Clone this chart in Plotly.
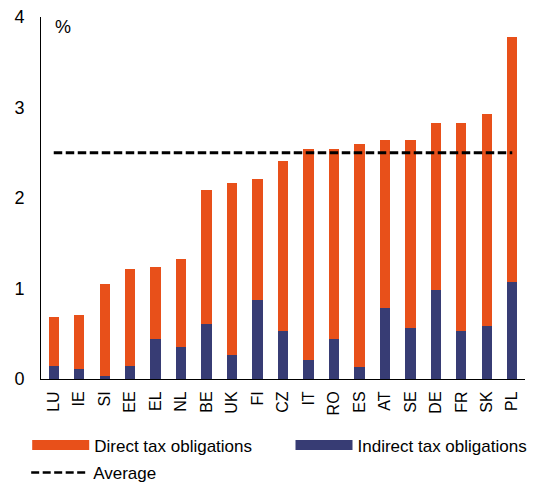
import plotly.graph_objects as go

countries = ["LU", "IE", "SI", "EE", "EL", "NL", "BE", "UK", "FI", "CZ",
             "IT", "RO", "ES", "AT", "SE", "DE", "FR", "SK", "PL"]
indirect = [0.14, 0.11, 0.03, 0.14, 0.44, 0.35, 0.61, 0.26, 0.87, 0.53,
            0.21, 0.44, 0.13, 0.79, 0.56, 0.98, 0.53, 0.59, 1.07]
direct = [0.54, 0.60, 1.02, 1.08, 0.80, 0.98, 1.48, 1.91, 1.34, 1.88,
          2.33, 2.10, 2.47, 1.85, 2.08, 1.85, 2.30, 2.34, 2.71]
average = 2.50
y_ticks = [0, 1, 2, 3, 4]

ORANGE = "#E8501A"
NAVY = "#373C74"
FONT = "Liberation Sans, Arial, sans-serif"

fig = go.Figure()
fig.add_trace(go.Bar(x=countries, y=indirect, marker=dict(color=NAVY, line=dict(width=0)),
                     showlegend=False, name="Indirect tax obligations"))
fig.add_trace(go.Bar(x=countries, y=direct, marker=dict(color=ORANGE, line=dict(width=0)),
                     showlegend=False, name="Direct tax obligations"))
fig.add_trace(go.Scatter(x=countries, y=[average] * len(countries), mode="lines",
                         line=dict(color="black", width=3, dash="8.5px,3.5px"),
                         showlegend=False, name="Average"))
# legend entries
fig.add_trace(go.Scatter(x=[None], y=[None], mode="lines", name="Direct tax obligations",
                         line=dict(color=ORANGE, width=10), legend="legend"))
fig.add_trace(go.Scatter(x=[None], y=[None], mode="lines", name="Indirect tax obligations",
                         line=dict(color=NAVY, width=10), legend="legend2"))
fig.add_trace(go.Scatter(x=[None], y=[None], mode="lines", name="Average",
                         line=dict(color="black", width=2.5, dash="8px,3.5px"), legend="legend3"))

leg_common = dict(orientation="h", xanchor="left", yanchor="top",
                  font=dict(size=17, family=FONT), itemwidth=57, bgcolor="rgba(0,0,0,0)")

fig.update_layout(
    width=537, height=476,
    margin=dict(l=33, r=20, t=9, b=105, autoexpand=False),
    barmode="stack", bargap=0.595,
    plot_bgcolor="white", paper_bgcolor="white",
    font=dict(family=FONT, size=16, color="black"),
    xaxis=dict(showline=True, linecolor="black", linewidth=1, ticks="outside",
               ticklen=5, tickcolor="rgba(0,0,0,0)", ticklabeloverflow="allow",
               tickangle=-90, tickfont=dict(size=16), range=[-0.5, 18.5]),
    yaxis=dict(showline=True, linecolor="black", linewidth=1, ticks="outside",
               ticklen=12, tickcolor="rgba(0,0,0,0)", ticklabeloverflow="allow",
               range=[0, 4], tickvals=y_ticks, showgrid=False, zeroline=False,
               tickfont=dict(size=18)),
    legend=dict(x=-0.0285, y=-0.1337, **leg_common),
    legend2=dict(x=0.5155, y=-0.1337, **leg_common),
    legend3=dict(x=-0.0306, y=-0.210, **leg_common),
    annotations=[dict(text="%", xref="paper", yref="paper", x=0.0248, y=0.972,
                      xanchor="left", yanchor="middle", showarrow=False,
                      font=dict(size=18))],
)

fig.write_html("out.html")
